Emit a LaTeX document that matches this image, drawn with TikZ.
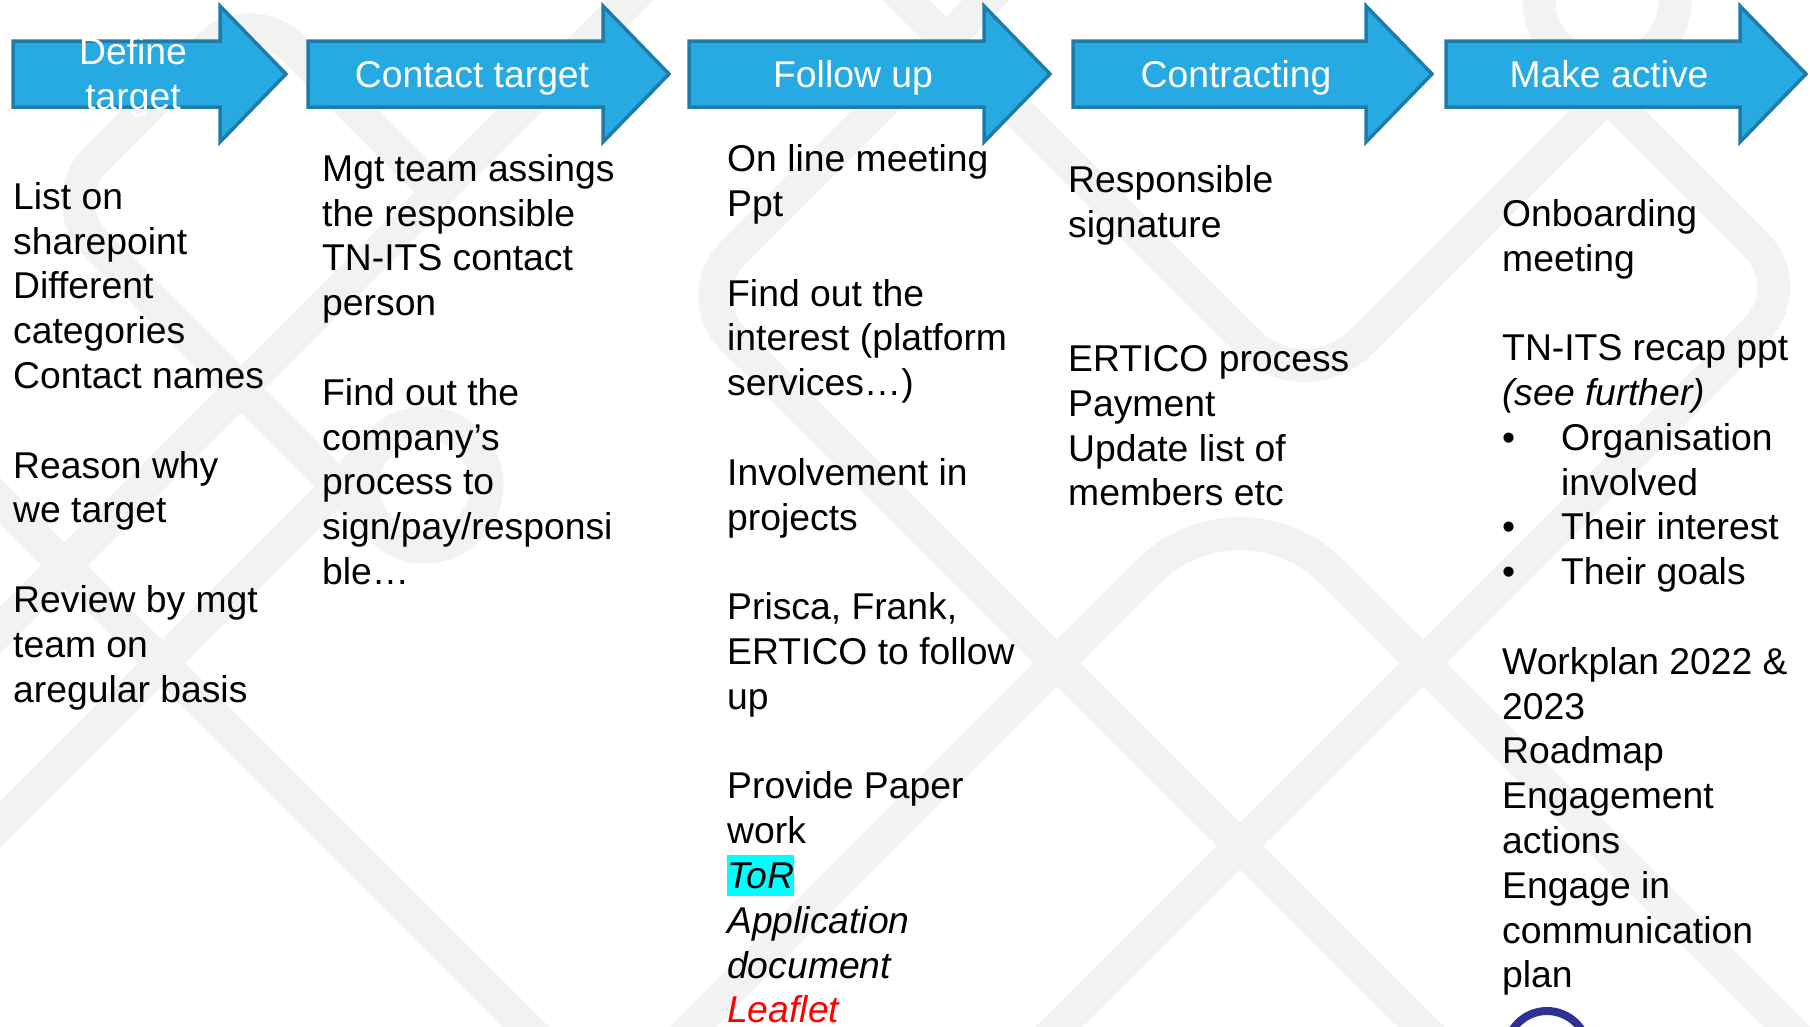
\documentclass[tikz,border=0pt]{standalone}
\usepackage{fontspec}
\setmainfont{Liberation Sans}
\usetikzlibrary{positioning}
\definecolor{phasefill}{HTML}{27A9E1}
\definecolor{phaseedge}{HTML}{1F7BA8}
\definecolor{watermark}{HTML}{F1F3F2}
\definecolor{ringblue}{HTML}{2E3192}
\definecolor{torcyan}{HTML}{00FFFF}
\definecolor{leafred}{HTML}{FF0000}
\setlength{\fboxsep}{0pt}
\newcommand{\Lead}{\rule{0pt}{30pt}}
\newcommand{\BulletItem}{\makebox[59pt][l]{•}}
\newcommand{\Marked}[1]{\colorbox{torcyan}{\rule[-7.8pt]{0pt}{41.3pt}\textit{#1}}}
\tikzset{
    phase/.pic = {
    \draw[draw=phaseedge, fill=phasefill, line width=3.5pt]
      (0,-33) -- (#1,-33) -- (#1,-68) -- (#1+66,0) -- (#1,68) -- (#1,33) -- (0,33) -- cycle;
    },
    band/.style={draw=watermark, line width=33pt},
    phase label/.style={text=white, align=center, inner sep=0pt},
    column text/.style={align=left, inner sep=0pt, anchor=north west},
}

\begin{document}
\begin{tikzpicture}[x=1pt, y=-1pt]
    \tikzset{
      every node/.append style={font=\fontsize{37.3}{44.8}\selectfont}
    }

    \useasboundingbox (0,0) rectangle (1810,1026);
    \clip (0,0) rectangle (1810,1026);
    \fill[white] (0,0) rectangle (1810,1026);

    \draw[band, rounded corners=60pt] (440,195) -- (250,5) -- (53.5,201.5) -- (381,529);
    \draw[band] (425,485) circle[radius=62];
    \draw[band] (382.5,442.5) -- (-40,865);
    \draw[band] (-40,461) -- (560,1061);
    \draw[band] (650,-20) -- (-20,650);
    \draw[band, rounded corners=60pt] (1006,-20) -- (690,296) -- (1440,1046);
    \draw[band, rounded corners=130pt] (660,1060) -- (1240,480) -- (1826,1066);
    \draw[band, rounded corners=60pt] (1559,48) -- (1798.5,287.5) -- (1040,1046);
    \draw[band, rounded corners=80pt] (1655,48) -- (1304.5,398.5) -- (886,-20);
    \draw[band] (1607,0) circle[radius=68];

    \pic at (13,74) {phase=207};
    \pic at (308,74) {phase=295};
    \pic at (689,74) {phase=295};
    \pic at (1073,74) {phase=293};
    \pic at (1446,74) {phase=294};

    \node[phase label] (define) at (133,77.7) {Define\\target};
    \node[phase label, anchor=base] (contact) at (472,87) {Contact target};
    \node[phase label, anchor=base] (follow) at (853,87) {Follow up};
    \node[phase label, anchor=base] (contract) at (1236,87) {Contracting};
    \node[phase label, anchor=base] (active) at (1609,87) {Make active};

    \node[column text] (listing) at (13,179) {\Lead List on\\sharepoint\\Different\\categories\\Contact names\\[44.8pt]Reason why\\we target\\[44.8pt]Review by mgt\\team on\\aregular basis};

    \node[column text] (assign) at (322,151) {\Lead Mgt team assings\\the responsible\\TN-ITS contact\\person\\[44.8pt]Find out the\\company’s\\process to\\sign/pay/responsi\\ble…};

    \node[column text] (meeting) at (727,141.5) {\Lead On line meeting\\Ppt\\[44.8pt]Find out the\\interest (platform\\services…)\\[44.8pt]Involvement in\\projects\\[44.8pt]Prisca, Frank,\\ERTICO to follow\\up\\[44.8pt]Provide Paper\\work\\\Marked{ToR}\\\textit{Application}\\\textit{document}\\\textcolor{leafred}{\textit{Leaflet}}};

    \node[column text] (signing) at (1068,162) {\Lead Responsible\\signature\\[89.6pt]ERTICO process\\Payment\\Update list of\\members etc};

    \node[column text] (onboard) at (1502,196) {\Lead Onboarding\\meeting\\[44.8pt]TN-ITS recap ppt\\\textit{(see further)}\\\BulletItem Organisation\\\hspace*{59pt}involved\\\BulletItem Their interest\\\BulletItem Their goals\\[44.8pt]Workplan 2022 \&\\2023\\Roadmap\\Engagement\\actions\\Engage in\\communication\\plan};

    \draw[ringblue, line width=8pt] (1547,1052) circle[radius=41];
  \end{tikzpicture}
\end{document}
